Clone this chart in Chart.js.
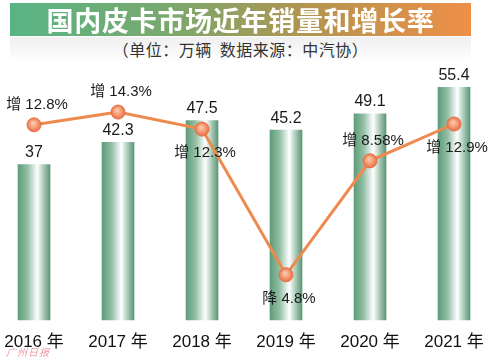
<!DOCTYPE html>
<html><head><meta charset="utf-8">
<script src="https://cdn.jsdelivr.net/npm/chart.js@4"></script>
<style>
html,body{margin:0;padding:0;background:#fff;}
#wrap{position:relative;width:500px;height:361px;overflow:hidden;}
#c{position:absolute;left:0;top:0;}
#banner{position:absolute;left:10px;top:3px;width:461px;height:33px;
 background:linear-gradient(90deg,#58b485 0%,#7aa86d 35%,#b3944f 65%,#ef8f47 100%);
 color:#fff;font:bold 27px "Noto Sans CJK SC",sans-serif;text-align:center;line-height:33px;letter-spacing:0.7px;}
#sub{position:absolute;left:10px;top:37px;width:461px;height:24px;text-align:center;
 font:16px "Noto Sans CJK SC",sans-serif;color:#333;line-height:25px;letter-spacing:0.5px;
 background:linear-gradient(180deg,#f0f0f0 0%,#f8f8f8 60%,#ffffff 100%);}
#wm{position:absolute;left:6px;top:344px;font:italic 10px "Noto Sans CJK SC",sans-serif;color:rgba(225,70,95,0.55);letter-spacing:1px;}
</style></head>
<body><div id="wrap">
<canvas id="c" width="500" height="361"></canvas>
<div id="banner">国内皮卡市场近年销量和增长率</div>
<div id="sub">（单位：万辆&nbsp;&nbsp;数据来源：中汽协）</div>
<div id="wm">广州日报</div>
</div>
<script>
const years = ['2016 年','2017 年','2018 年','2019 年','2020 年','2021 年'];
const sales = [37, 42.3, 47.5, 45.2, 49.1, 55.4];
const growth = [12.8, 14.3, 12.3, -4.8, 8.58, 12.9];

const growthLabelPlace = ['above','above','below','below','above','below'];
const FONT = '"Liberation Sans","Noto Sans CJK SC",sans-serif';

function barGradient(ctx){
  const chart = ctx.chart;
  if(!chart.chartArea || !chart.scales.x) return '#8fbba0';
  const x = chart.scales.x.getPixelForValue(ctx.dataIndex);
  const g = chart.ctx.createLinearGradient(x-16,0,x+16,0);
  g.addColorStop(0,'#5f9c7a');
  g.addColorStop(0.3,'#93bfa5');
  g.addColorStop(0.6,'#ffffff');
  g.addColorStop(0.8,'#a9cab6');
  g.addColorStop(1,'#5c9676');
  return g;
}
function pointGradient(ctx){
  const chart = ctx.chart;
  if(!chart.chartArea || !chart.scales.x || !chart.scales.y2) return '#f08a60';
  const x = chart.scales.x.getPixelForValue(ctx.dataIndex);
  const y = chart.scales.y2.getPixelForValue(growth[ctx.dataIndex]);
  const g = chart.ctx.createRadialGradient(x-1,y-2,0,x,y,7.5);
  g.addColorStop(0,'#fbd0b8');
  g.addColorStop(0.5,'#f5a07a');
  g.addColorStop(1,'#e7683f');
  return g;
}

const labelPlugin = {
  id:'labels',
  afterDatasetsDraw(chart){
    const c = chart.ctx;
    c.save();
    c.textAlign='center'; c.textBaseline='middle';
    c.fillStyle='#1a1a1a';
    c.font='16px '+FONT;
    const bm = chart.getDatasetMeta(1);
    bm.data.forEach((el,i)=>{ c.fillText(String(sales[i]), el.x, el.y-12); });
    c.font='15px '+FONT;
    const lm = chart.getDatasetMeta(0);
    lm.data.forEach((el,i)=>{
      const v = growth[i];
      const t = (v>=0?'增 ':'降 ')+Math.abs(v)+'%';
      const dy = growthLabelPlace[i]==='above' ? -20 : 24;
      c.fillText(t, el.x+3, el.y+dy);
    });
    c.restore();
  }
};

new Chart(document.getElementById('c'),{
  data:{
    labels: years,
    datasets:[
      {type:'line', data: growth, yAxisID:'y2', order:0, clip:false,
       borderColor:'#ee8a4e', borderWidth:3, tension:0,
       pointRadius:7, pointHoverRadius:7, pointBackgroundColor: pointGradient,
       pointBorderColor:'#e57047', pointBorderWidth:1},
      {type:'bar', data: sales, yAxisID:'y', order:1, clip:false,
       backgroundColor: barGradient, barThickness:32, borderWidth:0}
    ]
  },
  options:{
    responsive:false, animation:false, events:[],
    layout:{padding:{top:26,left:34,right:46,bottom:0}},
    plugins:{legend:{display:false},tooltip:{enabled:false}},
    scales:{
      x:{offset:false, grid:{display:false,drawTicks:false}, border:{display:false},
         ticks:{padding:12, color:'#111', font:{size:17,family:FONT}, maxRotation:0, autoSkip:false},
         afterFit(s){ s.height = 41; s.paddingLeft = 0; s.paddingRight = 0; }},
      y:{display:false, min:0, max:70},
      y2:{display:false, min:-10.1, max:24.4}
    }
  },
  plugins:[labelPlugin]
});
</script>
</body></html>
